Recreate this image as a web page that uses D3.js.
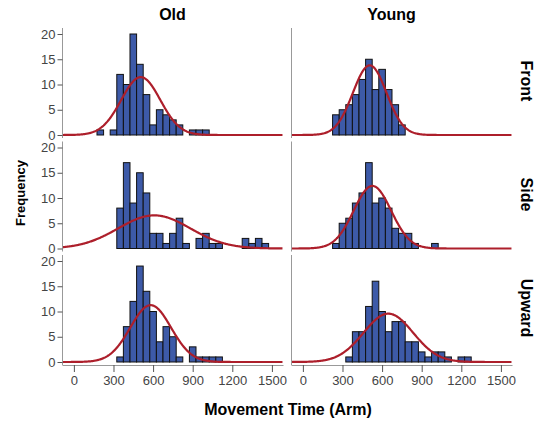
<!DOCTYPE html>
<html>
<head>
<meta charset="utf-8">
<script src="https://cdn.jsdelivr.net/npm/d3@7"></script>
<style>
  body { margin: 0; background: #fff; }
  text { font-family: "Liberation Sans", Arial, sans-serif; }
  .tick-label { font-size: 13px; fill: #444; }
  .title { font-size: 16px; font-weight: bold; fill: #000; }
</style>
</head>
<body>
<svg class="chart"></svg>
<script>
// panel facets
const columns = ["Old", "Young"];
const rows = ["Front", "Side", "Upward"];

// histogram bins are 50 ms wide, first value = centre of first bin
const binWidth = 50;
const oldFrontStart = 200;
const oldFront = [1, 0, 1, 12, 10, 20, 14, 8, 2, 5, 4, 3, 2, 0, 1, 1, 1];
const youngFrontStart = 250;
const youngFront = [4, 5, 6, 8, 11, 15, 9, 13, 9, 6, 2];
const oldSideStart = 350;
const oldSide = [8, 17, 9, 15, 11, 3, 3, 1, 3, 6, 1, 0, 2, 3, 1, 1, 0, 0, 0, 2, 1, 2, 1];
const youngSideStart = 250;
const youngSide = [1, 5, 6, 9, 11, 17, 9, 10, 8, 4, 3, 3, 1, 0, 0, 1];
const oldUpStart = 350;
const oldUp = [1, 7, 12, 19, 14, 10, 4, 7, 5, 1, 0, 3, 1, 1, 1, 1];
const youngUpStart = 350;
const youngUp = [1, 6, 6, 11, 16, 10, 6, 8, 8, 4, 4, 2, 1, 2, 2, 1, 0, 1, 1];

const xTicks = [0, 300, 600, 900, 1200, 1500];
const yTicks = [0, 5, 10, 15, 20];

function drawChart() {
  const W = 540, H = 421;
  const svg = d3.select(".chart").attr("width", W).attr("height", H);

  const panelW = 221, panelH = 110;
  const colX = [62, 291];
  const rowY = [28, 141.5, 255];

  const x = d3.scaleLinear().domain([-90, 1584]).range([0, panelW]);
  const y = d3.scaleLinear().domain([0, 20]).range([panelH - 3, 6]);

  const panels = [
    { r: 0, c: 0, start: oldFrontStart, counts: oldFront },
    { r: 0, c: 1, start: youngFrontStart, counts: youngFront },
    { r: 1, c: 0, start: oldSideStart, counts: oldSide },
    { r: 1, c: 1, start: youngSideStart, counts: youngSide },
    { r: 2, c: 0, start: oldUpStart, counts: oldUp },
    { r: 2, c: 1, start: youngUpStart, counts: youngUp }
  ];

  panels.forEach(function(p, i) {
    const g = svg.append("g")
      .attr("transform", "translate(" + colX[p.c] + "," + rowY[p.r] + ")");

    g.append("clipPath").attr("id", "clip" + i)
      .append("rect").attr("x", 0).attr("y", -2).attr("width", panelW).attr("height", panelH + 2);

    const bins = p.counts.map(function(n, k) {
      return { mid: p.start + k * binWidth, n: n };
    });

    g.selectAll("rect.bar")
      .data(bins.filter(function(d) { return d.n > 0; }))
      .enter()
      .append("rect")
      .attr("class", "bar")
      .attr("x", function(d) { return x(d.mid - binWidth / 2); })
      .attr("width", function(d) { return x(d.mid + binWidth / 2) - x(d.mid - binWidth / 2); })
      .attr("y", function(d) { return y(d.n); })
      .attr("height", function(d) { return y(0) - y(d.n); })
      .style("fill", "#3d5aa8")
      .style("stroke", "#111")
      .style("stroke-width", 1);

    // fitted normal curve from the binned data
    const N = d3.sum(bins, function(d) { return d.n; });
    const mean = d3.sum(bins, function(d) { return d.n * d.mid; }) / N;
    const sd = Math.sqrt(d3.sum(bins, function(d) { return d.n * (d.mid - mean) * (d.mid - mean); }) / (N - 1));
    const xs = d3.range(-90, 1585, 5);
    const line = d3.line()
      .x(function(v) { return x(v); })
      .y(function(v) {
        const z = (v - mean) / sd;
        return y(N * binWidth * Math.exp(-0.5 * z * z) / (sd * Math.sqrt(2 * Math.PI)));
      });
    g.append("path")
      .datum(xs)
      .attr("d", line)
      .attr("clip-path", "url(#clip" + i + ")")
      .style("fill", "none")
      .style("stroke", "#ad1f2b")
      .style("stroke-width", 2.2);

    // y axis line
    g.append("line")
      .attr("x1", 0.5).attr("x2", 0.5).attr("y1", 0).attr("y2", panelH)
      .style("stroke", "#999").style("stroke-width", 1);

    if (p.c == 0) {
      const yAxis = d3.axisLeft(y).tickValues(yTicks).tickSize(5).tickPadding(2);
      const ya = g.append("g").attr("transform", "translate(0.5,0)").call(yAxis);
      ya.select(".domain").remove();
      ya.selectAll("line").style("stroke", "#555");
      ya.selectAll("text").attr("class", "tick-label");
    }

    if (p.r == 2) {
      const xAxis = d3.axisBottom(x).tickValues(xTicks).tickFormat(d3.format("d"))
        .tickSize(7).tickPadding(4).tickSizeOuter(0);
      const xa = g.append("g").attr("transform", "translate(0," + panelH + ")").call(xAxis);
      xa.select(".domain").style("stroke", "#999");
      xa.selectAll("line").style("stroke", "#555");
      xa.selectAll("text").attr("class", "tick-label");
    }
  });

  // column headers
  svg.selectAll("text.col")
    .data(columns)
    .enter()
    .append("text")
    .attr("class", "title")
    .attr("text-anchor", "middle")
    .attr("x", function(d, i) { return colX[i] + panelW / 2 + (i == 0 ? 0 : -10); })
    .attr("y", 20)
    .text(function(d) { return d; });

  // row strips on the right
  svg.selectAll("text.row")
    .data(rows)
    .enter()
    .append("text")
    .attr("class", "title")
    .attr("text-anchor", "middle")
    .attr("transform", function(d, i) {
      return "translate(521," + (rowY[i] + panelH / 2 - 2) + ") rotate(90)";
    })
    .text(function(d) { return d; });

  svg.append("text")
    .attr("class", "title")
    .style("font-size", "13px")
    .attr("text-anchor", "middle")
    .attr("transform", "translate(25,193) rotate(-90)")
    .text("Frequency");

  svg.append("text")
    .attr("class", "title")
    .attr("text-anchor", "middle")
    .attr("x", 288)
    .attr("y", 415)
    .text("Movement Time (Arm)");
}

drawChart();
</script>
</body>
</html>
